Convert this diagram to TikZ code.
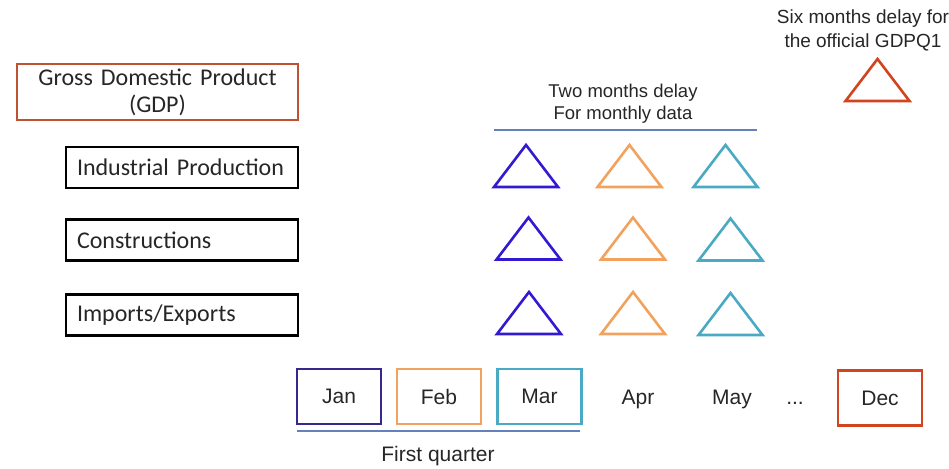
\documentclass[tikz,border=0pt]{standalone}
\usepackage{fontspec}
\setmainfont{Liberation Sans}
\newfontfamily\calfont{Carlito}
\definecolor{txt}{RGB}{38,38,38}
\definecolor{gdpbox}{RGB}{192,82,52}
\definecolor{decred}{RGB}{210,68,30}
\definecolor{triblue}{RGB}{50,25,210}
\definecolor{janbox}{RGB}{55,40,140}
\definecolor{orangeA}{RGB}{242,162,95}
\definecolor{tealA}{RGB}{75,170,195}
\definecolor{lineblue}{RGB}{100,130,185}
\tikzset{
  lbox/.style={draw=black, line width=2.5pt, minimum width=232pt, minimum height=41pt,
    inner sep=0pt, text width=210pt, align=left, text=txt,
    font=\calfont\fontsize{24}{27}\selectfont},
  mbox/.style={draw, line width=2.5pt, minimum width=84pt, minimum height=55pt,
    inner sep=0pt, text=txt, font=\fontsize{21}{25}\selectfont},
  mlabel/.style={inner sep=0pt, text=txt, font=\fontsize{21}{25}\selectfont},
  note/.style={inner sep=0pt, align=center, text=txt},
  bar/.style={draw=lineblue, line width=1.3pt},
  tri/.pic={\draw[line width=2.6pt, line join=miter, pic actions] (-32,21) -- (0,-21) -- (32,21) -- cycle;}
}
\begin{document}
\begin{tikzpicture}[x=1pt,y=-1pt]
\useasboundingbox (0,0) rectangle (949,468);
% left boxes
\node[lbox, draw=gdpbox, minimum width=281pt, minimum height=56pt, text width=270pt, align=center]
  (gdp) at (157.5,92) {Gross Domestic Product\\(GDP)};
\node[lbox] (ip) at (182,167.5) {Industrial Production};
\node[lbox] (con) at (182,240) {Constructions};
\node[lbox] (imp) at (182,315) {Imports/Exports};
% top notes
\node[note, font=\fontsize{18.5}{22}\selectfont] (two) at (623,104) {Two months delay\\For monthly data};
\coordinate (tl) at (494,130);
\coordinate (tr) at (757,130);
\draw[bar] (tl) -- (tr);
\node[note, font=\fontsize{19}{24}\selectfont] (six) at (863,30) {Six months delay for\\the official GDPQ1};
% triangles
\pic (t11) [color=triblue] at (526,166) {tri};
\pic (t12) [color=orangeA] at (629.5,166) {tri};
\pic (t13) [color=tealA] at (725.5,166) {tri};
\pic (t21) [color=triblue] at (528.5,238.5) {tri};
\pic (t22) [color=orangeA] at (633,238.5) {tri};
\pic (t23) [color=tealA] at (730.5,239.5) {tri};
\pic (t31) [color=triblue] at (529,313) {tri};
\pic (t32) [color=orangeA] at (633,313) {tri};
\pic (t33) [color=tealA] at (730.5,314) {tri};
\pic (tg) [color=decred] at (877.5,80) {tri};
% months
\node[mbox, draw=janbox] (jan) at (339,396.5) {Jan};
\node[mbox, draw=orangeA] (feb) at (439,396.5) {Feb};
\node[mbox, draw=tealA] (mar) at (539.5,396.5) {Mar};
\node[mlabel] (apr) at (638,399) {Apr};
\node[mlabel] (may) at (732,399) {May};
\node[mlabel, anchor=base] (dots) at (795,404) {...};
\node[mbox, draw=decred] (dec) at (880,398) {Dec};
\coordinate (ql) at (297,431);
\coordinate (qr) at (580,431);
\draw[bar] (ql) -- (qr);
\node[mlabel] (fq) at (438,456) {First quarter};
\end{tikzpicture}
\end{document}
